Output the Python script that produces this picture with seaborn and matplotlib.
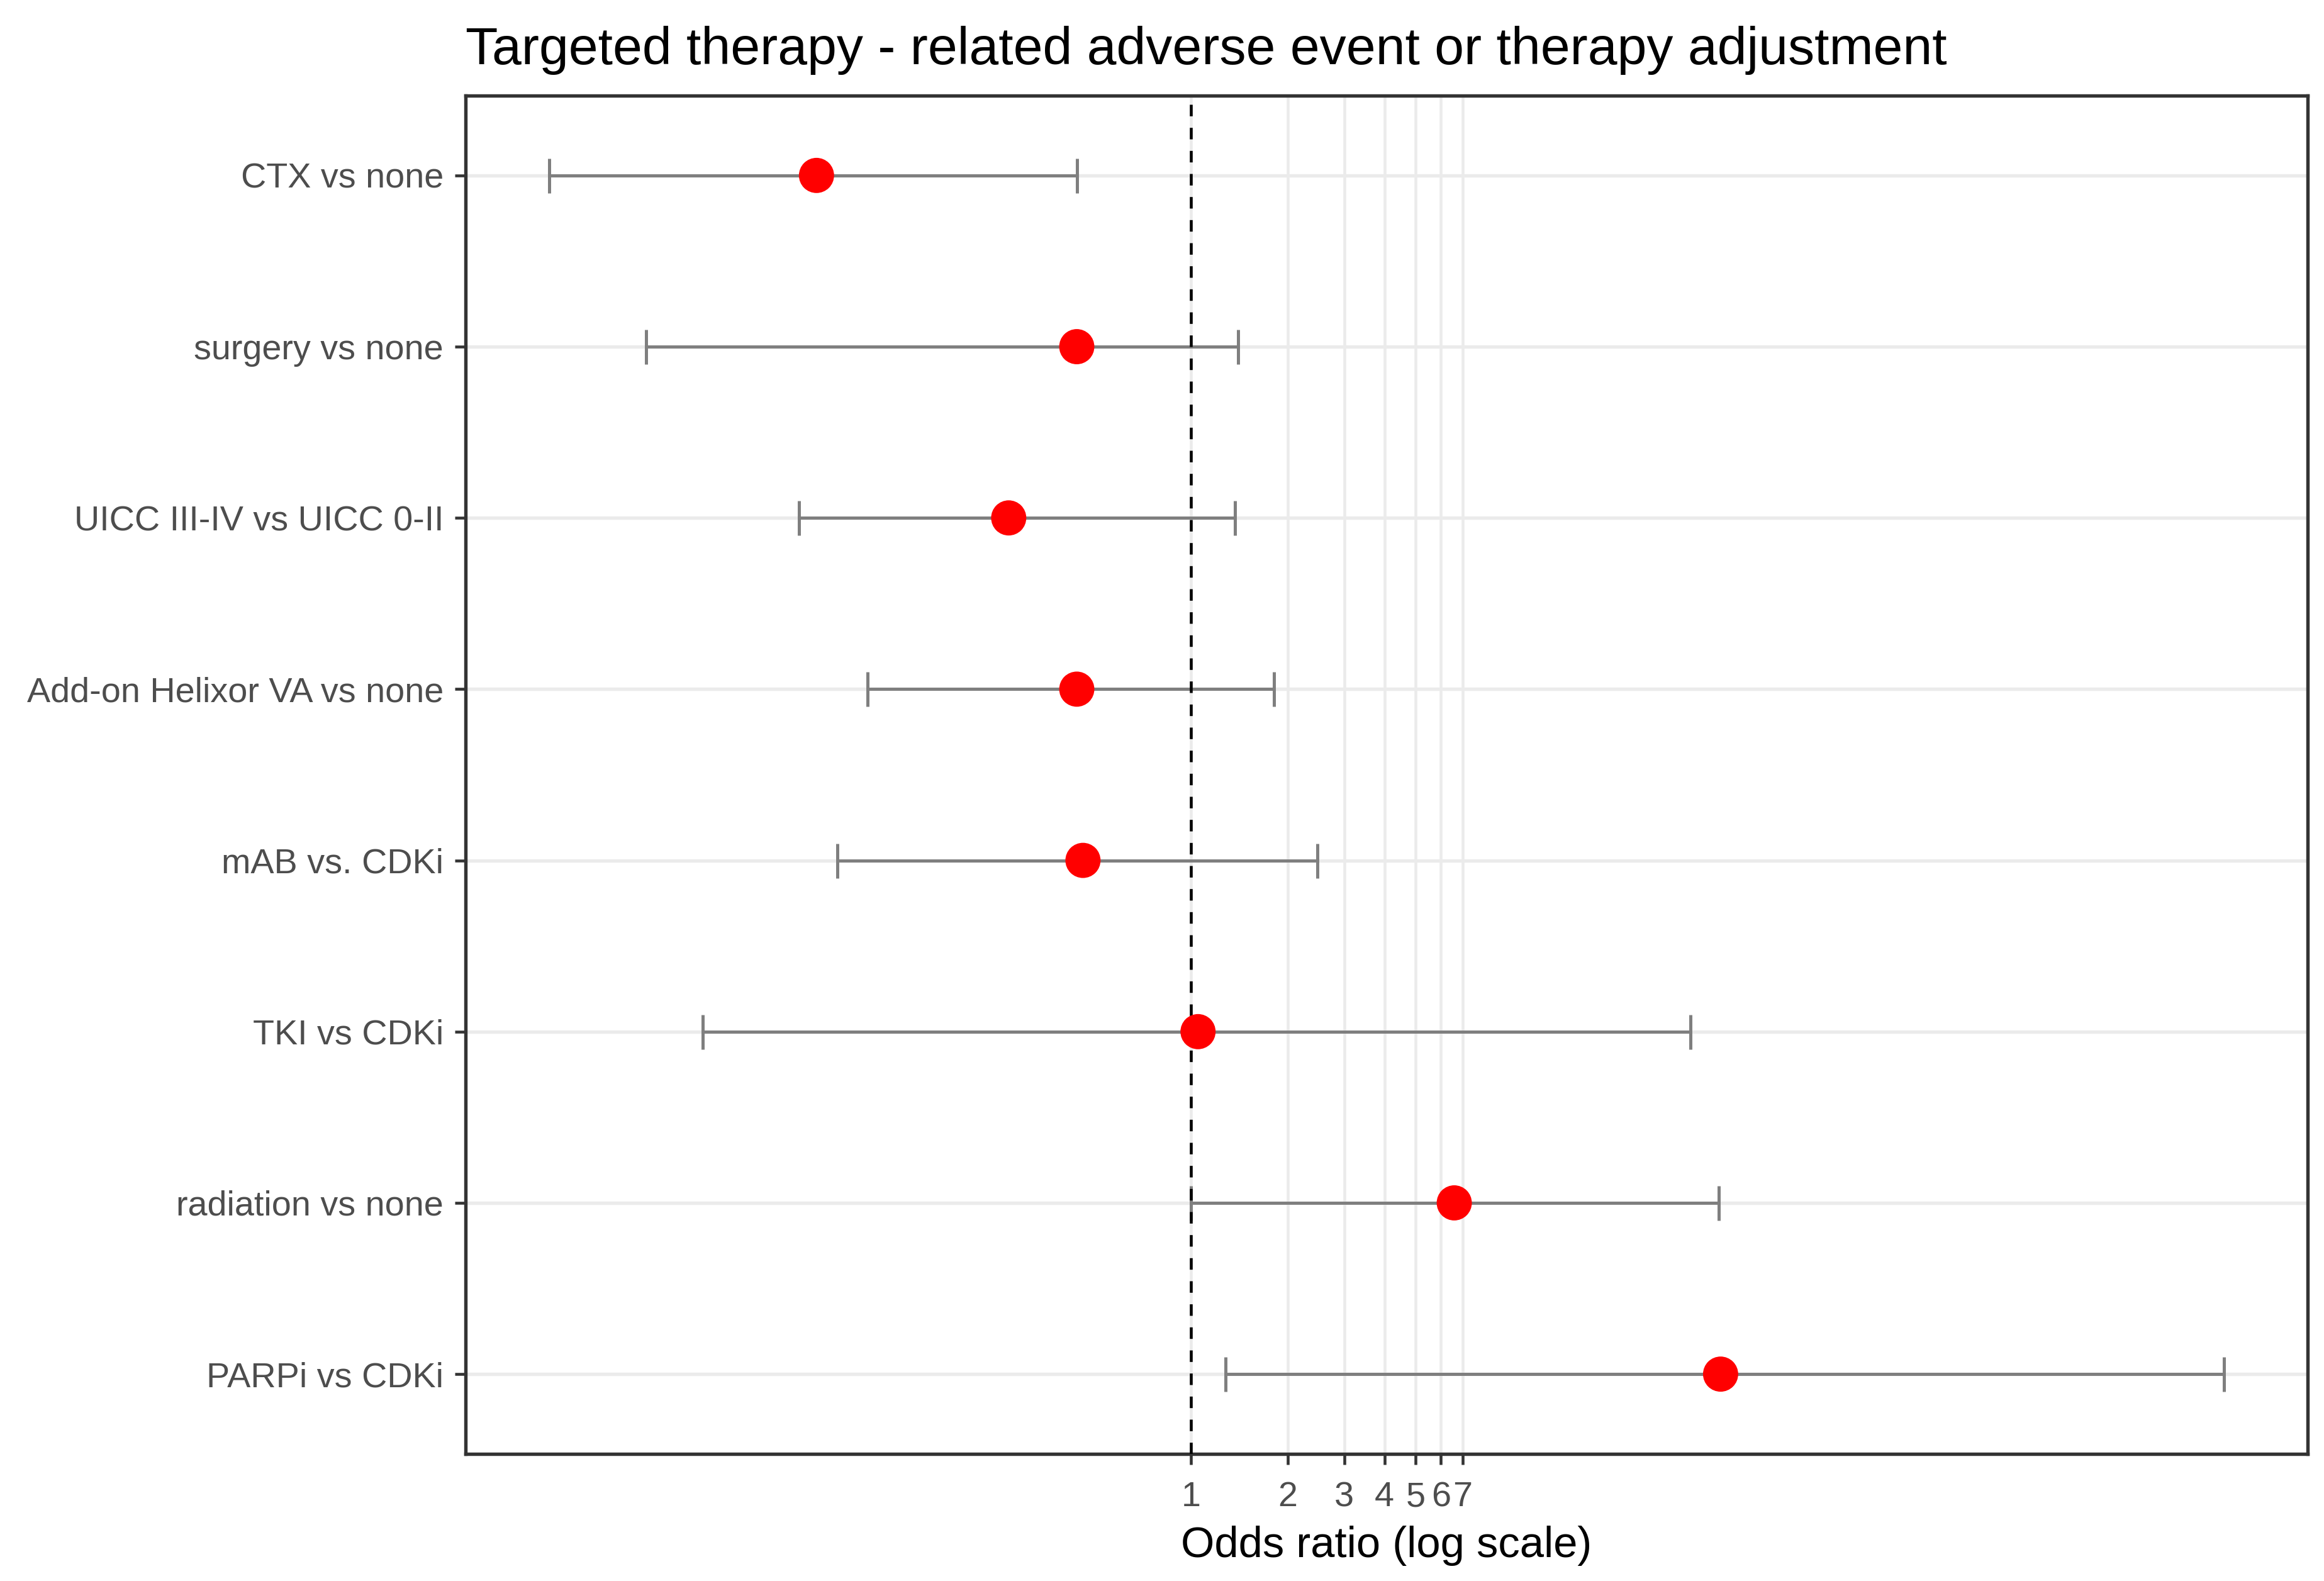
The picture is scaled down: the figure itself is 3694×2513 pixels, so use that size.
import numpy as np
import pandas as pd
import matplotlib
matplotlib.use("Agg")
from matplotlib import pyplot as plt
from matplotlib.ticker import FixedLocator, NullLocator, FixedFormatter
import seaborn as sns

# data (odds ratio + 95% CI)
labels = ["CTX vs none", "surgery vs none", "UICC III-IV vs UICC 0-II",
          "Add-on Helixor VA vs none", "mAB vs. CDKi", "TKI vs CDKi",
          "radiation vs none", "PARPi vs CDKi"]
odds = [0.068, 0.44, 0.27, 0.44, 0.46, 1.05, 6.6, 44.6]
ci_low = [0.010, 0.020, 0.060, 0.098, 0.079, 0.030, 1.0, 1.28]
ci_high = [0.44, 1.40, 1.37, 1.81, 2.47, 36.0, 44.0, 1650.0]
x_breaks = [1, 2, 3, 4, 5, 6, 7]

TXT = "#4D4D4D"


def main():
    sns.set_theme(style="white")
    plt.rcParams["font.family"] = ["Liberation Sans", "DejaVu Sans"]

    df = pd.DataFrame({"label": labels, "odds": odds, "lo": ci_low, "hi": ci_high})
    df["pos"] = np.arange(len(df))

    fig = plt.figure(figsize=(3694 / 300, 2513 / 300), dpi=300)
    ax = fig.add_axes([740 / 3694, 1 - 2311 / 2513, (3668 - 740) / 3694, (2311 - 152) / 2513])

    # gridlines
    for p in df["pos"]:
        ax.axhline(p, color="#EBEBEB", lw=1.3, zorder=0)
    for b in x_breaks:
        ax.axvline(b, color="#EBEBEB", lw=1.1, zorder=0)

    # confidence intervals
    ax.errorbar(df["odds"], df["pos"],
                xerr=[df["odds"] - df["lo"], df["hi"] - df["odds"]],
                fmt="none", ecolor="#7F7F7F", elinewidth=1.2,
                capsize=6.6, capthick=1.2, zorder=2)

    ax.axvline(1, color="black", lw=1.1, linestyle=(0, (4, 4)), zorder=3)

    sns.scatterplot(data=df, x="odds", y="pos", color="red", s=180,
                    edgecolor="none", linewidth=0, ax=ax, zorder=4)

    ax.set_xscale("log")
    # ggplot-like 5% expansion in log space
    lmin = np.log10(df["lo"].min())
    lmax = np.log10(df["hi"].max())
    span = lmax - lmin
    ax.set_xlim(10 ** (lmin - 0.05 * span), 10 ** (lmax + 0.05 * span))
    ax.set_ylim(len(df) - 1 + 0.466, -0.466)

    ax.xaxis.set_major_locator(FixedLocator(x_breaks))
    ax.xaxis.set_major_formatter(FixedFormatter([str(b) for b in x_breaks]))
    ax.xaxis.set_minor_locator(NullLocator())
    ax.set_yticks(df["pos"])
    ax.set_yticklabels(df["label"])

    ax.tick_params(axis="both", which="major", length=4, width=1.1,
                   color="#333333", labelsize=13.4, labelcolor=TXT,
                   direction="out", bottom=True, left=True)
    ax.tick_params(axis="x", pad=6.4)
    ax.tick_params(axis="y", pad=4.4)

    for sp in ax.spines.values():
        sp.set_color("#333333")
        sp.set_linewidth(1.3)
        sp.set_visible(True)

    ax.set_xlabel("Odds ratio (log scale)", fontsize=16.5, color="black", labelpad=4.5)
    ax.set_ylabel("")
    ax.set_title("Targeted therapy - related adverse event or therapy adjustment",
                 loc="left", fontsize=20.2, color="black", pad=12)

    fig.savefig("out.png", dpi=300)


if __name__ == "__main__":
    main()
